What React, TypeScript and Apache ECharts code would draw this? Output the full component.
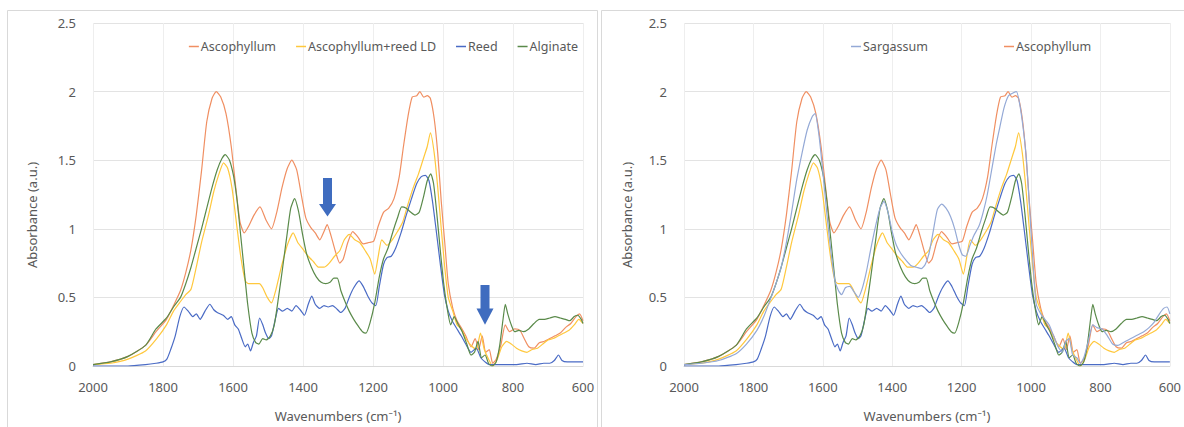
import React, { useEffect, useRef } from "react";
import * as echarts from "echarts";

// Wavenumber (cm-1), absorbance (a.u.)
const ascophyllum: [number, number][] = [
  [2000,0.01],[1950,0.03],[1900,0.07],[1850,0.15],[1820,0.25],[1790,0.34],[1770,0.44],[1750,0.55],[1735,0.68],[1720,0.85],[1705,1.1],[1690,1.42],[1675,1.78],[1660,1.95],[1648,2.0],[1635,1.96],[1620,1.84],[1605,1.6],[1592,1.3],[1580,1.05],[1568,0.97],[1555,1.02],[1540,1.1],[1523,1.16],[1505,1.06],[1490,1.0],[1475,1.12],[1460,1.3],[1445,1.44],[1432,1.5],[1418,1.43],[1405,1.25],[1392,1.08],[1378,1.01],[1365,0.97],[1352,0.92],[1340,0.98],[1331,1.03],[1320,0.95],[1308,0.84],[1295,0.75],[1285,0.78],[1272,0.9],[1258,0.98],[1243,0.94],[1228,0.89],[1212,0.9],[1198,0.91],[1185,1.02],[1170,1.12],[1155,1.15],[1140,1.22],[1125,1.38],[1113,1.6],[1100,1.82],[1088,1.96],[1075,1.97],[1066,2.0],[1055,1.96],[1045,1.97],[1036,1.95],[1025,1.8],[1015,1.55],[1005,1.2],[995,0.9],[985,0.6],[972,0.42],[960,0.33],[948,0.28],[935,0.22],[920,0.14],[908,0.2],[898,0.12],[888,0.22],[878,0.1],[868,0.12],[858,0.02],[848,0.05],[835,0.15],[822,0.3],[810,0.25],[795,0.27],[780,0.26],[768,0.2],[755,0.14],[740,0.13],[725,0.17],[710,0.18],[695,0.2],[680,0.22],[665,0.24],[650,0.28],[635,0.31],[620,0.36],[610,0.38],[600,0.33]
];
const ascophyllumReedLD: [number, number][] = [
  [2000,0.01],[1950,0.02],[1900,0.05],[1850,0.11],[1818,0.2],[1790,0.3],[1770,0.4],[1750,0.47],[1735,0.52],[1720,0.56],[1705,0.72],[1690,0.9],[1670,1.1],[1655,1.27],[1640,1.4],[1627,1.48],[1615,1.44],[1603,1.3],[1590,1.04],[1578,0.8],[1565,0.62],[1555,0.6],[1540,0.6],[1525,0.6],[1515,0.57],[1502,0.5],[1490,0.46],[1478,0.55],[1462,0.72],[1445,0.88],[1428,0.97],[1415,0.9],[1400,0.85],[1385,0.8],[1370,0.76],[1355,0.72],[1340,0.72],[1325,0.75],[1310,0.8],[1295,0.84],[1282,0.92],[1268,0.96],[1252,0.92],[1238,0.9],[1222,0.84],[1208,0.78],[1195,0.67],[1185,0.8],[1175,0.92],[1160,0.88],[1145,0.92],[1130,0.98],[1115,1.05],[1100,1.18],[1085,1.3],[1070,1.4],[1055,1.52],[1045,1.6],[1036,1.7],[1025,1.55],[1015,1.3],[1005,1.0],[995,0.72],[985,0.5],[972,0.4],[960,0.3],[948,0.27],[935,0.2],[920,0.15],[905,0.12],[893,0.24],[882,0.12],[870,0.05],[858,0.0],[845,0.05],[832,0.14],[818,0.18],[805,0.16],[790,0.13],[775,0.11],[760,0.1],[745,0.12],[730,0.13],[715,0.16],[700,0.19],[685,0.2],[670,0.22],[655,0.24],[640,0.26],[625,0.3],[612,0.34],[600,0.31]
];
const reed: [number, number][] = [
  [2000,0.0],[1950,0.0],[1900,0.0],[1850,0.01],[1820,0.02],[1800,0.03],[1789,0.05],[1778,0.12],[1765,0.22],[1752,0.36],[1740,0.43],[1728,0.4],[1715,0.36],[1705,0.38],[1694,0.34],[1680,0.4],[1666,0.45],[1655,0.41],[1645,0.39],[1628,0.37],[1615,0.34],[1605,0.36],[1595,0.3],[1585,0.27],[1575,0.2],[1565,0.14],[1558,0.16],[1550,0.11],[1542,0.17],[1533,0.22],[1524,0.35],[1515,0.3],[1507,0.24],[1498,0.2],[1490,0.22],[1480,0.33],[1470,0.42],[1458,0.4],[1445,0.42],[1432,0.4],[1420,0.44],[1408,0.41],[1396,0.37],[1385,0.45],[1375,0.51],[1365,0.45],[1352,0.42],[1340,0.44],[1328,0.43],[1316,0.44],[1305,0.42],[1292,0.39],[1280,0.42],[1268,0.5],[1255,0.57],[1240,0.62],[1228,0.58],[1215,0.51],[1203,0.46],[1192,0.44],[1182,0.58],[1170,0.74],[1160,0.79],[1148,0.8],[1135,0.86],[1120,0.97],[1105,1.1],[1090,1.22],[1075,1.33],[1062,1.38],[1050,1.39],[1040,1.35],[1030,1.2],[1020,1.0],[1008,0.75],[996,0.52],[985,0.4],[972,0.32],[960,0.27],[948,0.22],[935,0.16],[920,0.1],[905,0.13],[892,0.06],[880,0.03],[868,0.01],[850,0.01],[820,0.01],[790,0.01],[760,0.02],[735,0.01],[712,0.02],[695,0.02],[682,0.04],[670,0.08],[660,0.04],[645,0.03],[625,0.03],[600,0.03]
];
const alginate: [number, number][] = [
  [2000,0.01],[1950,0.03],[1900,0.07],[1850,0.15],[1820,0.27],[1790,0.35],[1770,0.43],[1750,0.5],[1735,0.6],[1720,0.72],[1705,0.86],[1690,1.0],[1675,1.15],[1660,1.3],[1645,1.43],[1632,1.51],[1622,1.54],[1610,1.5],[1598,1.38],[1588,1.2],[1578,0.95],[1568,0.7],[1558,0.45],[1546,0.24],[1535,0.17],[1526,0.16],[1515,0.2],[1505,0.19],[1493,0.22],[1482,0.3],[1470,0.5],[1458,0.72],[1446,0.95],[1435,1.15],[1424,1.22],[1413,1.13],[1402,0.97],[1390,0.82],[1376,0.72],[1362,0.65],[1348,0.61],[1335,0.6],[1323,0.61],[1312,0.64],[1302,0.64],[1292,0.55],[1280,0.47],[1268,0.4],[1255,0.34],[1242,0.29],[1230,0.25],[1220,0.24],[1208,0.32],[1195,0.46],[1182,0.65],[1170,0.78],[1157,0.86],[1143,0.98],[1130,1.08],[1118,1.16],[1105,1.15],[1092,1.12],[1080,1.1],[1068,1.12],[1055,1.24],[1045,1.35],[1035,1.4],[1027,1.33],[1018,1.12],[1008,0.85],[998,0.6],[988,0.42],[978,0.3],[968,0.36],[956,0.3],[945,0.25],[932,0.16],[920,0.08],[910,0.1],[900,0.18],[890,0.06],[880,0.08],[870,0.02],[860,0.0],[848,0.03],[838,0.15],[828,0.35],[822,0.45],[815,0.38],[805,0.3],[795,0.25],[783,0.26],[770,0.25],[755,0.27],[740,0.31],[725,0.34],[710,0.34],[695,0.35],[680,0.36],[665,0.35],[650,0.34],[638,0.33],[625,0.36],[615,0.37],[605,0.34],[600,0.31]
];
const sargassum: [number, number][] = [
  [2000,0.01],[1950,0.02],[1900,0.04],[1850,0.09],[1820,0.16],[1790,0.26],[1770,0.36],[1752,0.48],[1735,0.6],[1720,0.72],[1705,0.9],[1690,1.12],[1675,1.36],[1660,1.55],[1645,1.72],[1630,1.82],[1622,1.84],[1612,1.7],[1600,1.42],[1588,1.1],[1576,0.82],[1565,0.62],[1555,0.55],[1546,0.52],[1535,0.57],[1522,0.58],[1510,0.54],[1498,0.5],[1487,0.56],[1475,0.68],[1462,0.85],[1448,1.02],[1435,1.15],[1424,1.2],[1412,1.12],[1400,0.98],[1388,0.88],[1375,0.82],[1360,0.77],[1345,0.73],[1330,0.72],[1316,0.71],[1305,0.74],[1294,0.82],[1282,0.98],[1270,1.14],[1258,1.18],[1245,1.15],[1232,1.09],[1220,1.0],[1208,0.88],[1198,0.81],[1188,0.8],[1176,0.88],[1165,0.95],[1150,1.02],[1138,1.12],[1126,1.25],[1112,1.45],[1100,1.62],[1090,1.74],[1078,1.88],[1065,1.97],[1052,1.99],[1042,2.0],[1032,1.9],[1022,1.72],[1013,1.5],[1003,1.1],[993,0.7],[985,0.45],[972,0.38],[960,0.34],[948,0.3],[935,0.22],[922,0.14],[910,0.1],[900,0.18],[890,0.2],[880,0.08],[868,0.06],[858,0.02],[848,0.06],[835,0.18],[822,0.3],[810,0.28],[795,0.27],[780,0.22],[765,0.16],[750,0.15],[735,0.17],[720,0.19],[705,0.21],[690,0.23],[675,0.25],[660,0.28],[645,0.32],[630,0.38],[618,0.42],[608,0.43],[600,0.38]
];

// arrows: wavenumber, top, head start, tip (absorbance)
const arrows: number[][] = [
  [1330, 1.37, 1.18, 1.09],
  [880, 0.59, 0.42, 0.3],
];

const xRange = [600, 2000];
const yRange = [0, 2.5];
const leftLegend = ["Ascophyllum", "Ascophyllum+reed LD", "Reed", "Alginate"];
const rightLegend = ["Sargassum", "Ascophyllum"];

const COLORS: Record<string, string> = {
  "Ascophyllum": "#F08F62",
  "Ascophyllum+reed LD": "#FFC83D",
  "Reed": "#4A6BC5",
  "Alginate": "#5A8A4A",
  "Sargassum": "#94A9D6",
};

const FONT = "'Noto Sans', 'DejaVu Sans', sans-serif";
const TXT = "#595959";

export default function App() {
  const ref = useRef<HTMLDivElement>(null);
  useEffect(() => {
    if (!ref.current) return;
    const chart = echarts.init(ref.current, undefined, { renderer: "svg" });
    const grids = [
      { left: 93, top: 23, width: 490, height: 349 },
      { left: 684, top: 23, width: 490, height: 349 },
    ];
    const xAxes = grids.map((_, i) => ({
      type: "value",
      gridIndex: i,
      min: xRange[0],
      max: xRange[1],
      interval: 200,
      inverse: true,
      axisLine: { show: true, lineStyle: { color: "#d9d9d9" } },
      axisTick: { show: false },
      splitLine: { show: true, lineStyle: { color: "#eeeeee" } },
      axisLabel: { color: TXT, fontSize: 13, margin: 14, fontFamily: FONT, formatter: (v: number) => String(v) },
      name: "Wavenumbers (cm⁻¹)",
      nameLocation: "middle",
      nameGap: 43,
      nameTextStyle: { color: TXT, fontSize: 13, fontFamily: FONT },
    }));
    const yAxes = grids.map((_, i) => ({
      type: "value",
      gridIndex: i,
      min: yRange[0],
      max: yRange[1],
      interval: 0.5,
      axisLine: { show: false },
      axisTick: { show: false },
      splitLine: { show: true, lineStyle: { color: "#e3e3e3" } },
      axisLabel: { color: TXT, fontSize: 13, margin: 17, fontFamily: FONT },
    }));
    const mk = (name: string, data: [number, number][], g: number) => ({
      type: "line",
      name,
      xAxisIndex: g,
      yAxisIndex: g,
      data,
      symbol: "none",
      showSymbol: false,
      smooth: 0.2,
      lineStyle: { width: 1.2, color: COLORS[name] },
      itemStyle: { color: COLORS[name] },
    });
    const series: any[] = [];
    for (const g of [0, 1]) {
      series.push(mk("Ascophyllum", ascophyllum, g));
      series.push(mk("Ascophyllum+reed LD", ascophyllumReedLD, g));
      series.push(mk("Reed", reed, g));
      series.push(mk("Alginate", alginate, g));
      if (g === 1) series.push(mk("Sargassum", sargassum, g));
    }
    series.push({
      type: "custom",
      xAxisIndex: 0,
      yAxisIndex: 0,
      data: arrows,
      encode: { x: 0, y: [1, 2, 3] },
      silent: true,
      z: 10,
      renderItem: (params: any, api: any) => {
        const top = api.coord([api.value(0), api.value(1)]);
        const neck = api.coord([api.value(0), api.value(2)]);
        const tip = api.coord([api.value(0), api.value(3)]);
        const x = top[0];
        return {
          type: "polygon",
          shape: {
            points: [
              [x - 4.5, top[1]], [x + 4.5, top[1]], [x + 4.5, neck[1]],
              [x + 8.5, neck[1]], [x, tip[1]], [x - 8.5, neck[1]], [x - 4.5, neck[1]],
            ],
          },
          style: { fill: "#3F6CBF" },
        };
      },
    });
    const legendBase = {
      icon: "rect",
      itemWidth: 10,
      itemHeight: 1.5,
      textStyle: { color: TXT, fontSize: 12.5, fontFamily: FONT, padding: [0, 0, 0, -3] },
      selectedMode: false,
    };
    chart.setOption({
      animation: false,
      backgroundColor: "#ffffff",
      grid: grids,
      xAxis: xAxes,
      yAxis: yAxes,
      legend: [
        { ...legendBase, data: leftLegend, right: 1184 - 583, top: 35, itemGap: 20 },
        { ...legendBase, data: rightLegend, left: 846, top: 35, itemGap: 76 },
      ],
      graphic: [
        { type: "rect", silent: true, z: -10, shape: { x: 7.5, y: 10.5, width: 590, height: 440 }, style: { fill: "none", stroke: "#d9d9d9", lineWidth: 1 } },
        { type: "rect", silent: true, z: -10, shape: { x: 601.5, y: 10.5, width: 600, height: 440 }, style: { fill: "none", stroke: "#d9d9d9", lineWidth: 1 } },
        { type: "text", silent: true, x: 32, y: 215, rotation: Math.PI / 2, style: { text: "Absorbance (a.u.)", fill: TXT, fontSize: 13, fontFamily: FONT, align: "center", verticalAlign: "middle" } },
        { type: "text", silent: true, x: 627, y: 215, rotation: Math.PI / 2, style: { text: "Absorbance (a.u.)", fill: TXT, fontSize: 13, fontFamily: FONT, align: "center", verticalAlign: "middle" } },
      ],
      series,
    });
    return () => chart.dispose();
  }, []);
  return (
    <div
      ref={ref}
      style={{ position: "fixed", left: 0, top: 0, width: 1184, height: 427, background: "#fff" }}
    />
  );
}
